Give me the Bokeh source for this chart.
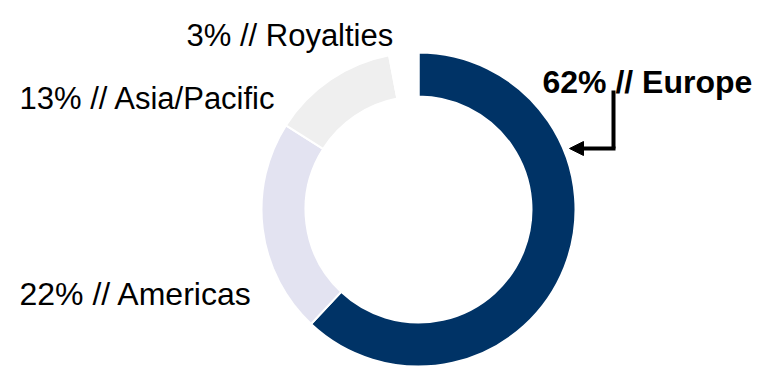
from bokeh.plotting import figure
from bokeh.models import Range1d, ColumnDataSource, Arrow, NormalHead
from bokeh.core.properties import value
from bokeh.embed import file_html
from bokeh.resources import INLINE
import math

# ---- data ----
regions = ["Europe", "Americas", "Asia/Pacific", "Royalties"]
shares = [62, 22, 13, 3]
labels = ["62% // Europe", "22% // Americas", "13% // Asia/Pacific", "3% // Royalties"]
colors = ["#003366", "#E3E3F1", "#EFEFEF", "#FFFFFF"]

W, H = 766, 366
p = figure(width=W, height=H, output_backend="svg", toolbar_location=None,
           x_range=Range1d(0, W), y_range=Range1d(0, H), min_border=0)
p.axis.visible = False
p.grid.visible = False
p.outline_line_color = None
p.background_fill_color = "white"
p.border_fill_color = "white"

cx, cy = 418, H - 209
r_in, r_out = 113, 157

# clockwise from 12 o'clock
starts, ends = [], []
cum = 0
total = sum(shares)
for s in shares:
    a0 = math.pi / 2 - 2 * math.pi * (cum + s) / total
    a1 = math.pi / 2 - 2 * math.pi * cum / total
    starts.append(a0)
    ends.append(a1)
    cum += s

src = ColumnDataSource(dict(region=regions, start=starts, end=ends, color=colors))
p.annular_wedge(x=cx, y=cy, inner_radius=r_in, outer_radius=r_out,
                start_angle="start", end_angle="end", fill_color="color",
                line_color="white", line_width=2, source=src)

font = value("Liberation Sans")
# labels
p.text(x=[186], y=[H - 35], text=[labels[3]], text_font=font, text_font_size="31px",
       text_color="black", text_baseline="alphabetic", text_align="left")
p.text(x=[19], y=[H - 98], text=[labels[2]], text_font=font, text_font_size="31px",
       text_color="black", text_baseline="alphabetic", text_align="left")
p.text(x=[19], y=[H - 293], text=[labels[1]], text_font=font, text_font_size="32px",
       text_color="black", text_baseline="alphabetic", text_align="left")
p.text(x=[542], y=[H - 81], text=[labels[0]], text_font=font, text_font_size="32px",
       text_font_style="bold", text_color="black", text_baseline="alphabetic",
       text_align="left")

# callout arrow
p.line(x=[613, 613], y=[H - 90, H - 148], line_color="black", line_width=4)
p.add_layout(Arrow(end=NormalHead(size=14, fill_color="black", line_color="black"),
                   x_start=615, y_start=H - 148, x_end=569, y_end=H - 148,
                   line_color="black", line_width=4))

open("out.html", "w").write(file_html(p, INLINE))
